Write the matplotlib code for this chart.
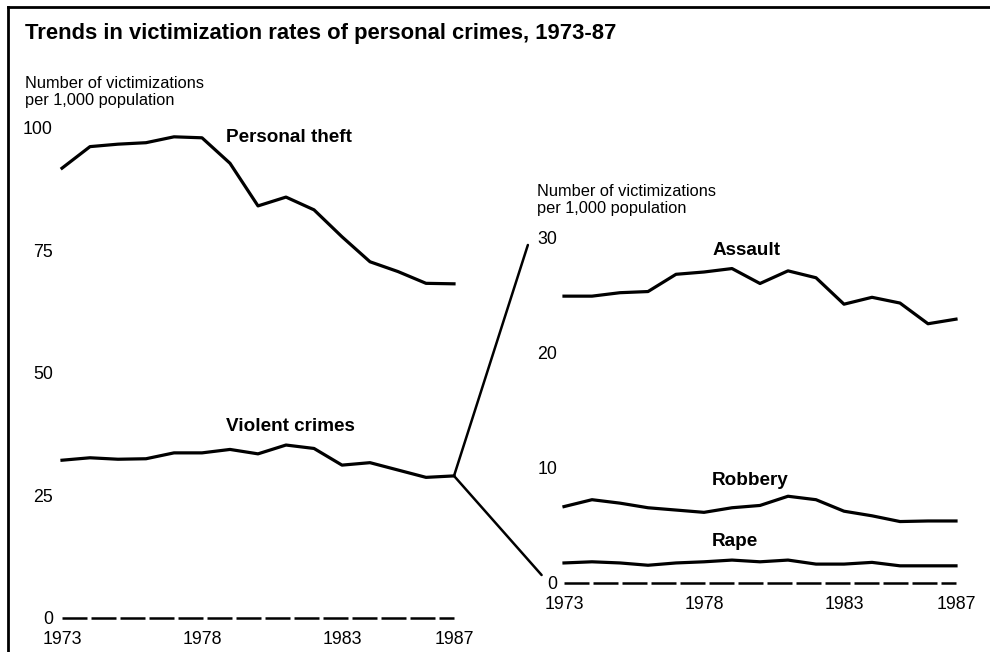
import matplotlib
matplotlib.use('Agg')
import matplotlib.pyplot as plt
from matplotlib.patches import ConnectionPatch
from matplotlib.lines import Line2D

plt.rcParams['font.family'] = ['Liberation Sans', 'DejaVu Sans']

years = list(range(1973, 1988))

# left panel, per 1,000 population
personal_theft = [91.8, 96.2, 96.7, 97.0, 98.2, 98.0, 92.8, 84.1, 85.9, 83.3,
                  77.8, 72.7, 70.7, 68.3, 68.2]
violent_crimes = [32.2, 32.7, 32.4, 32.5, 33.7, 33.7, 34.4, 33.5, 35.3, 34.6,
                  31.2, 31.7, 30.2, 28.7, 29.0]

# right panel, breakdown of violent crimes
assault = [24.9, 24.9, 25.2, 25.3, 26.8, 27.0, 27.3, 26.0, 27.1, 26.5,
           24.2, 24.8, 24.3, 22.5, 22.9]
robbery = [6.6, 7.2, 6.9, 6.5, 6.3, 6.1, 6.5, 6.7, 7.5, 7.2,
           6.2, 5.8, 5.3, 5.35, 5.35]
rape = [1.7, 1.8, 1.7, 1.5, 1.7, 1.8, 1.95, 1.8, 1.95, 1.6,
        1.6, 1.75, 1.45, 1.45, 1.45]

left_yticks = [0, 25, 50, 75, 100]
right_yticks = [0, 10, 20, 30]
xticks = [1973, 1978, 1983, 1987]

W, H = 990, 652
fig = plt.figure(figsize=(W / 100, H / 100), dpi=100)


def px_axes(x0, x1, y_top, y_bot):
    return fig.add_axes([x0 / W, 1 - y_bot / H, (x1 - x0) / W, (y_bot - y_top) / H])


def style_axes(ax, yticks, ylim, ypad):
    ax.set_xlim(1973, 1987)
    ax.set_ylim(*ylim)
    for s in ax.spines.values():
        s.set_visible(False)
    ax.set_yticks(yticks)
    ax.set_xticks(xticks)
    ax.tick_params(axis='both', length=0, labelsize=12.8)
    ax.tick_params(axis='y', pad=ypad)
    ax.tick_params(axis='x', pad=9.5)
    ax.patch.set_alpha(0)
    # dashed zero baseline
    ax.plot([1973, 1987], [0, 0], color='black', lw=1.8,
            dashes=[10, 1.6], clip_on=False)


lw = 2.3
lab = dict(fontsize=13.6, fontweight='bold', ha='left', va='center')

ax1 = px_axes(62, 454, 128, 618)
style_axes(ax1, left_yticks, (0, 100), 6.5)
ax1.plot(years, personal_theft, color='black', lw=lw, clip_on=False)
ax1.plot(years, violent_crimes, color='black', lw=lw, clip_on=False)
ax1.text(1978.86, 98.0, 'Personal theft', **lab)
ax1.text(1978.86, 39.0, 'Violent crimes', **lab)

ax2 = px_axes(564, 956, 237.5, 582.5)
style_axes(ax2, right_yticks, (0, 30), 5)
ax2.plot(years, assault, color='black', lw=lw, clip_on=False)
ax2.plot(years, robbery, color='black', lw=lw, clip_on=False)
ax2.plot(years, rape, color='black', lw=lw, clip_on=False)
ax2.text(1978.32, 28.9, 'Assault', **lab)
ax2.text(1978.29, 8.9, 'Robbery', **lab)
ax2.text(1978.29, 3.55, 'Rape', **lab)

# connector lines from violent crimes 1987 to the breakdown axis
for xy_b in [(1971.71, 29.35), (1972.2, 0.65)]:
    con = ConnectionPatch(xyA=(1987, violent_crimes[-1]), coordsA=ax1.transData,
                          xyB=xy_b, coordsB=ax2.transData,
                          color='black', lw=1.8)
    fig.add_artist(con)

ytitle = 'Number of victimizations\nper 1,000 population'
fig.text(25 / W, 1 - 92 / H, ytitle, fontsize=11.8, ha='left', va='center',
         linespacing=1.2)
fig.text(537 / W, 1 - 200 / H, ytitle, fontsize=11.8, ha='left', va='center',
         linespacing=1.2)

fig.text(25 / W, 1 - 33 / H, 'Trends in victimization rates of personal crimes, 1973-87',
         fontsize=15.8, fontweight='bold', ha='left', va='center')

# frame of the original figure box
fig.add_artist(Line2D([8 / W, 8 / W], [0, 1 - 7 / H], color='black', lw=2))
fig.add_artist(Line2D([8 / W, 1], [1 - 7 / H, 1 - 7 / H], color='black', lw=2))

fig.savefig('out.png', dpi=100)
